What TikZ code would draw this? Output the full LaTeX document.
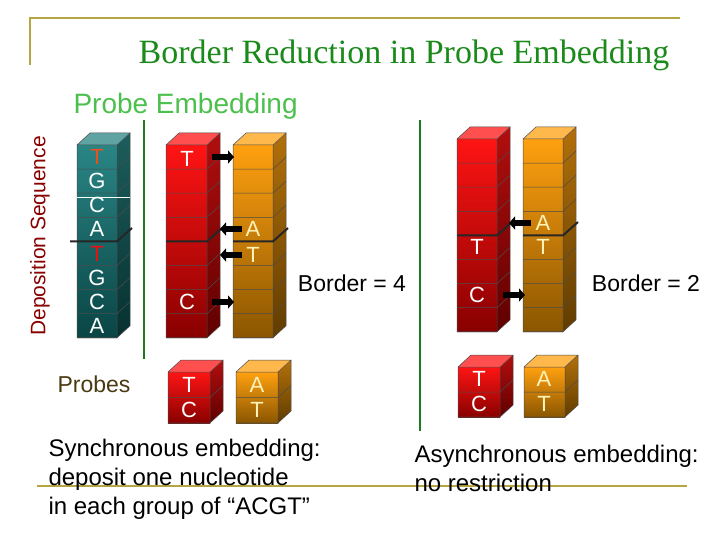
\documentclass[tikz,border=0pt]{standalone}
\usepackage{fontspec}
\setmainfont{Liberation Sans}
\newfontfamily\serifti{Liberation Serif}
\usetikzlibrary{arrows.meta}
\definecolor{olive}{HTML}{B5A642}
\definecolor{ttl}{HTML}{1A8A1A}
\definecolor{lgreen}{HTML}{4CC04C}
\definecolor{vgreen}{HTML}{1E7A1E}
\definecolor{tealA}{HTML}{2A8585}
\definecolor{tealB}{HTML}{0A4545}
\definecolor{redA}{HTML}{FF1414}
\definecolor{redB}{HTML}{880000}
\definecolor{orA}{HTML}{FFA010}
\definecolor{orB}{HTML}{8A5600}
\definecolor{ttred}{HTML}{E8501E}
\definecolor{yel}{HTML}{FFF2B8}
\definecolor{brown}{HTML}{4A3A10}
\newcommand\prism[7]{%
 \shade[top color=#6,bottom color=#7] (#1,#2) rectangle ++(#3,{#4*#5});
 \shade[top color=#6!70!black,bottom color=#7!70!black] ({#1+#3},#2) -- ++(13,-12) -- ++(0,{#4*#5}) -- ++(-13,12) -- cycle;
 \fill[#6!75!white] (#1,#2) -- ++(13,-12) -- ++(#3,0) -- ++(-13,12) -- cycle;
 \foreach \i in {1,...,#4}{\draw[black!70,line width=0.5pt] (#1,{#2+\i*#5}) -- ++(#3,0) -- ++(13,-12);}
 \draw[black!70,line width=0.5pt] (#1,{#2+#4*#5}) rectangle (#1+#3,#2) -- ++(13,-12) -- ++(-#3,0) -- ++(-13,12)
   ({#1+#3+13},{#2-12}) -- ++(0,{#4*#5});
}
\tikzset{let/.style={text=white,font=\fontsize{22}{22}\selectfont},
 blk/.style={line width=6pt,-{Triangle[length=6pt,width=13pt]}},
 bord/.style={line width=2pt,black!85},
 body/.style={font=\fontsize{24}{29}\selectfont}}
\begin{document}
\begin{tikzpicture}[x=1pt,y=-1pt]
\useasboundingbox[fill=white] (0,0) rectangle (720,540);
% frame
\draw[olive,line width=2pt] (30,65) -- (30,18) -- (680,18);
\node[text=ttl,font=\serifti\fontsize{34}{34}\selectfont] (title) at (404,55) {Border Reduction in Probe Embedding};
\node[text=lgreen,font=\fontsize{28}{28}\selectfont,anchor=west] (pe) at (70,106) {Probe Embedding};
\node[text=redB,font=\fontsize{21}{21}\selectfont,rotate=90] (ds) at (40,236) {Deposition Sequence};
% green lines
\draw[vgreen,line width=2.5pt] (144,120) -- (144,359);
\draw[vgreen,line width=2.5pt] (420,120) -- (420,431);
% left columns
\prism{77}{145}{40}{8}{24.1}{tealA}{tealB}
\prism{166}{145}{41}{8}{24.1}{redA}{redB}
\prism{233}{145}{40}{8}{24.1}{orA}{orB}
\draw[white,line width=1pt] (77,198) -- (130,198);
\foreach \t/\r in {G/2,C/3,A/4,G/6,C/7,A/8}{\node[let] at (97,{145+(\r-0.5)*24.1}) {\t};}
\node[let,text=ttred] at (97,157) {T};
\node[let,text=redA!90!black] at (97,254) {T};
\draw[bord] (70,241.4) -- (117,241.4) -- (132,228);
\draw[bord] (166,241.4) -- (207,241.4) -- (222,228);
\draw[bord] (233,241.4) -- (273,241.4) -- (288,228);
\node[let] at (187,159) {T};
\node[let] at (187,302) {C};
\node[let,text=yel] at (253,229) {A};
\node[let,text=yel] at (253,255) {T};
\draw[blk] (212,157) -- (234,157);
\draw[blk] (242,229) -- (220,229);
\draw[blk] (242,255) -- (220,255);
\draw[blk] (212,302) -- (234,302);
\node[font=\fontsize{23}{23}\selectfont] (b4) at (352,283) {Border = 4};
% right columns
\prism{457}{139}{40}{8}{24.1}{redA}{redB}
\prism{523}{139}{40}{8}{24.1}{orA}{orB}
\draw[bord] (457,235.4) -- (497,235.4) -- (512,222);
\draw[bord] (523,235.4) -- (563,235.4) -- (578,222);
\node[let] at (477,247) {T};
\node[let] at (477,295) {C};
\node[let,text=yel] at (543,223) {A};
\node[let,text=yel] at (543,247) {T};
\draw[blk] (531,223) -- (509,223);
\draw[blk] (503,295) -- (525,295);
\node[font=\fontsize{23}{23}\selectfont] (b2) at (646,283) {Border = 2};
% probes
\node[text=brown,font=\fontsize{23}{23}\selectfont] (pr) at (94,384) {Probes};
\prism{168}{372}{42}{2}{25.5}{redA}{redB}
\prism{236}{372}{42}{2}{25.5}{orA}{orB}
\node[let] at (189,385) {T};
\node[let] at (189,410) {C};
\node[let,text=yel] at (257,385) {A};
\node[let,text=yel] at (257,410) {T};
\prism{458}{367}{42}{2}{25}{redA}{redB}
\prism{524}{367}{41}{2}{25}{orA}{orB}
\node[let] at (479,379) {T};
\node[let] at (479,404) {C};
\node[let,text=yel] at (544,379) {A};
\node[let,text=yel] at (544,404) {T};
% bottom line and texts
\draw[olive,line width=2pt] (37,486) -- (687,486);
\node[body,align=left,anchor=north west] (sy) at (45,436) {Synchronous embedding:\\deposit one nucleotide\\in each group of “ACGT”};
\node[body,align=left,anchor=north west] (as) at (411,442) {Asynchronous embedding:\\no restriction};
\end{tikzpicture}
\end{document}
